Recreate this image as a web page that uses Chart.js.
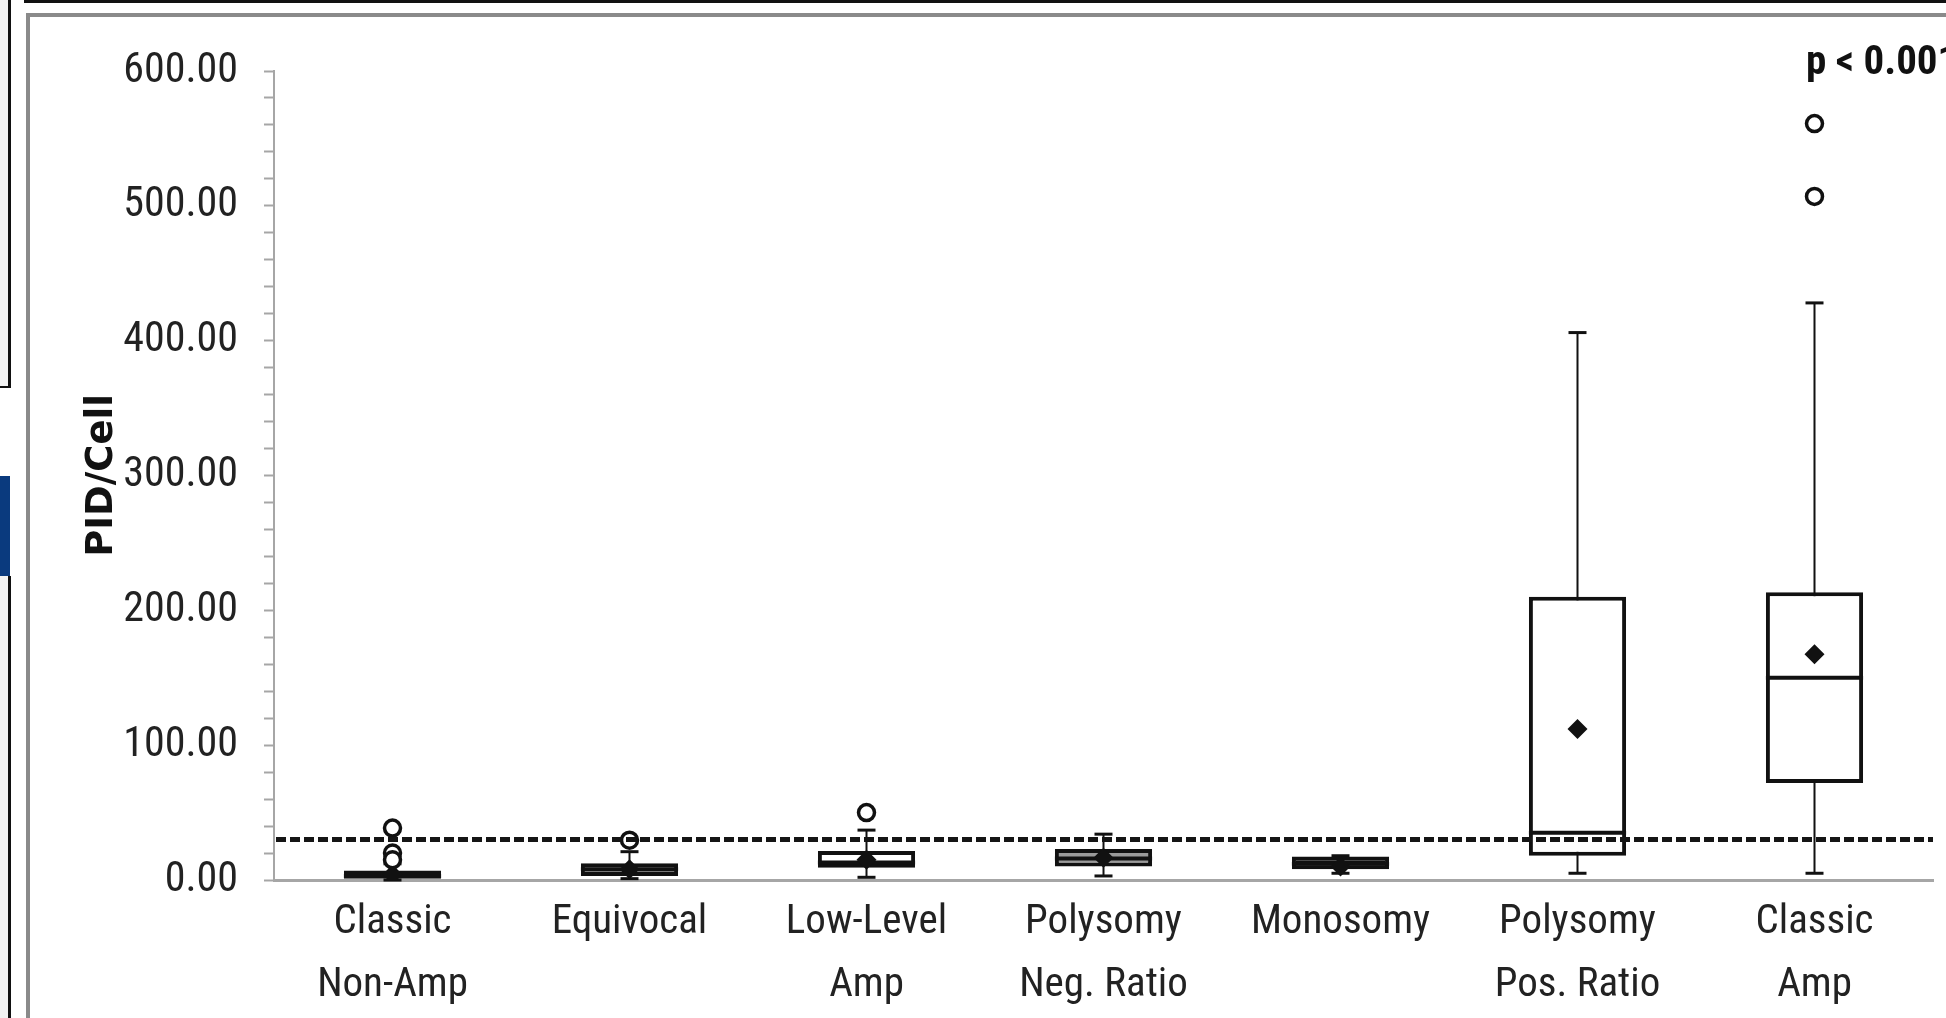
<!DOCTYPE html>
<html>
<head>
<meta charset="utf-8">
<title>PID/Cell box plot</title>
<script src="https://cdn.jsdelivr.net/npm/chart.js@4.4.1/dist/chart.umd.min.js"></script>
<style>
  body { margin: 0; background: #fff; }
  #page { position: relative; width: 1946px; height: 1018px; overflow: hidden; background: #fff; }
  #topline { position: absolute; left: 24px; top: 0; width: 1922px; height: 3px; background: #111; }
  #frame { position: absolute; left: 26px; top: 13px; width: 1940px; height: 1020px;
           border-left: 4px solid #8a8a8a; border-top: 4px solid #8a8a8a; box-sizing: border-box; }
  #panelTop { position: absolute; left: 0; top: 0; width: 8px; height: 386px; background: #f2f2f2;
              border-right: 3px solid #111; border-bottom: 2px solid #111; }
  #blue { position: absolute; left: 0; top: 476px; width: 10px; height: 100px; background: #0a3a7e; }
  #panelBottom { position: absolute; left: 0; top: 576px; width: 8px; height: 450px; background: #f2f2f2;
                 border-right: 3px solid #111; }
  #wrap { position: absolute; left: 0; top: 0; width: 1946px; height: 1018px; }
</style>
</head>
<body>
<div id="page">
  <div id="topline"></div>
  <div id="frame"></div>
  <div id="panelTop"></div>
  <div id="blue"></div>
  <div id="panelBottom"></div>
  <div id="wrap"><canvas id="myChart"></canvas></div>
</div>
<script>
// datos
const categorias = [
  ["Classic", "Non-Amp"],
  "Equivocal",
  ["Low-Level", "Amp"],
  ["Polysomy", "Neg. Ratio"],
  "Monosomy",
  ["Polysomy", "Pos. Ratio"],
  ["Classic", "Amp"]
];
const q1 = [1, 3, 9, 10, 8, 18, 72];
const q3 = [7, 12.5, 21.5, 23, 17.5, 210, 213.5];
const mediana = [3, 8, 13, 16, 12, 35, 150];
const media = [4, 8, 15, 16.5, 10, 112, 167.5];
const bigoteMin = [0, 1, 2, 3, 5, 5, 5];
const bigoteMax = [12, 21, 37, 34, 18, 406, 428];
const outliers = [
  [38.5, 20, 15],
  [29.5],
  [50],
  [],
  [],
  [],
  [561, 507]
];
const corte = 30;
const pTexto = "p < 0.001";

const FONT = "'Roboto Condensed', 'Liberation Sans Narrow', sans-serif";
const rellenos = ["#111", "#9a9a9a", "#fff", "#9a9a9a", "#111", "#fff", "#fff"];

// x con la misma etiqueta (referencia) para que la escala de categorias la encuentre
let puntosOutliers = [];
outliers.forEach((lista, i) => {
  lista.forEach((v) => puntosOutliers.push({ x: categorias[i], y: v }));
});

// bigotes, medianas, linea de corte y texto p
const boxExtras = {
  id: "boxExtras",
  beforeDatasetsDraw(chart) {
    const ctx = chart.ctx;
    const x = chart.scales.x;
    const y = chart.scales.y;
    ctx.save();
    ctx.strokeStyle = "#111";
    for (let i = 0; i < categorias.length; i++) {
      const cx = x.getPixelForValue(i);
      ctx.lineWidth = 2;
      ctx.beginPath();
      ctx.moveTo(cx, y.getPixelForValue(bigoteMin[i]));
      ctx.lineTo(cx, y.getPixelForValue(bigoteMax[i]));
      ctx.stroke();
      ctx.lineWidth = 3;
      [bigoteMin[i], bigoteMax[i]].forEach((v) => {
        const py = y.getPixelForValue(v);
        ctx.beginPath();
        ctx.moveTo(cx - 9, py);
        ctx.lineTo(cx + 9, py);
        ctx.stroke();
      });
    }
    ctx.restore();
  },
  afterDatasetDraw(chart, args) {
    if (args.index !== 0) return;
    const ctx = chart.ctx;
    const y = chart.scales.y;
    const barras = chart.getDatasetMeta(0).data;
    ctx.save();
    ctx.strokeStyle = "#111";
    ctx.lineWidth = 4;
    barras.forEach((b, i) => {
      const py = y.getPixelForValue(mediana[i]);
      ctx.beginPath();
      ctx.moveTo(b.x - b.width / 2, py);
      ctx.lineTo(b.x + b.width / 2, py);
      ctx.stroke();
    });
    ctx.restore();
  },
  afterDatasetsDraw(chart) {
    const ctx = chart.ctx;
    const area = chart.chartArea;
    const py = chart.scales.y.getPixelForValue(corte);
    ctx.save();
    ctx.strokeStyle = "#151515";
    ctx.lineWidth = 5;
    ctx.setLineDash([10, 4]);
    ctx.beginPath();
    ctx.moveTo(area.left + 2, py);
    ctx.lineTo(area.right, py);
    ctx.stroke();
    ctx.restore();
  },
  afterDraw(chart) {
    const ctx = chart.ctx;
    ctx.save();
    ctx.fillStyle = "#111";
    ctx.font = "bold 41px " + FONT;
    ctx.textBaseline = "alphabetic";
    ctx.fillText(pTexto, 1806, 74);
    ctx.restore();
  }
};

const ctx = document.getElementById("myChart");
window.myChart = new Chart(ctx, {
  type: "bar",
  data: {
    labels: categorias,
    datasets: [
      {
        type: "bar",
        data: q1.map((v, i) => [v, q3[i]]),
        backgroundColor: rellenos,
        borderColor: "#111",
        borderWidth: 4,
        borderSkipped: false,
        barPercentage: 0.41,
        categoryPercentage: 1,
        order: 3
      },
      {
        type: "line",
        data: media,
        showLine: false,
        pointStyle: "rectRot",
        pointRadius: 10,
        pointBackgroundColor: "#111",
        pointBorderWidth: 0,
        order: 2
      },
      {
        type: "scatter",
        data: puntosOutliers,
        showLine: false,
        pointStyle: "circle",
        pointRadius: 8,
        pointBorderWidth: 3.5,
        pointBorderColor: "#111",
        pointBackgroundColor: "#fff",
        order: 1
      }
    ]
  },
  plugins: [boxExtras],
  options: {
    responsive: true,
    maintainAspectRatio: false,
    animation: false,
    layout: { padding: { left: 0, right: 13, top: 71, bottom: 0 } },
    plugins: {
      legend: { display: false },
      tooltip: { enabled: false }
    },
    scales: {
      x: {
        afterFit: (scale) => { scale.height = 138; },
        grid: { display: true, drawOnChartArea: false, drawTicks: false },
        border: { display: true, color: "#a6a6a6", width: 3 },
        ticks: {
          color: "#222",
          padding: 12,
          font: { family: FONT, size: 41, lineHeight: 1.52 },
          maxRotation: 0,
          autoSkip: false
        }
      },
      y: {
        min: 0,
        max: 600,
        afterFit: (scale) => { scale.width = 274; },
        grid: { display: true, drawOnChartArea: false, drawTicks: true, tickLength: 10, tickColor: "#a6a6a6", tickWidth: 2 },
        border: { display: true, color: "#a6a6a6", width: 2 },
        ticks: {
          stepSize: 20,
          autoSkip: false,
          color: "#222",
          padding: 26,
          font: { family: FONT, size: 42 },
          callback: (v) => (v % 100 === 0 ? v.toFixed(2) : "")
        },
        title: {
          display: true,
          text: "PID/Cell",
          color: "#111",
          padding: { top: 80, bottom: 0 },
          font: { family: "'DejaVu Sans', sans-serif", size: 37, weight: "bold", lineHeight: 1.2 }
        }
      }
    }
  }
});
</script>
</body>
</html>
